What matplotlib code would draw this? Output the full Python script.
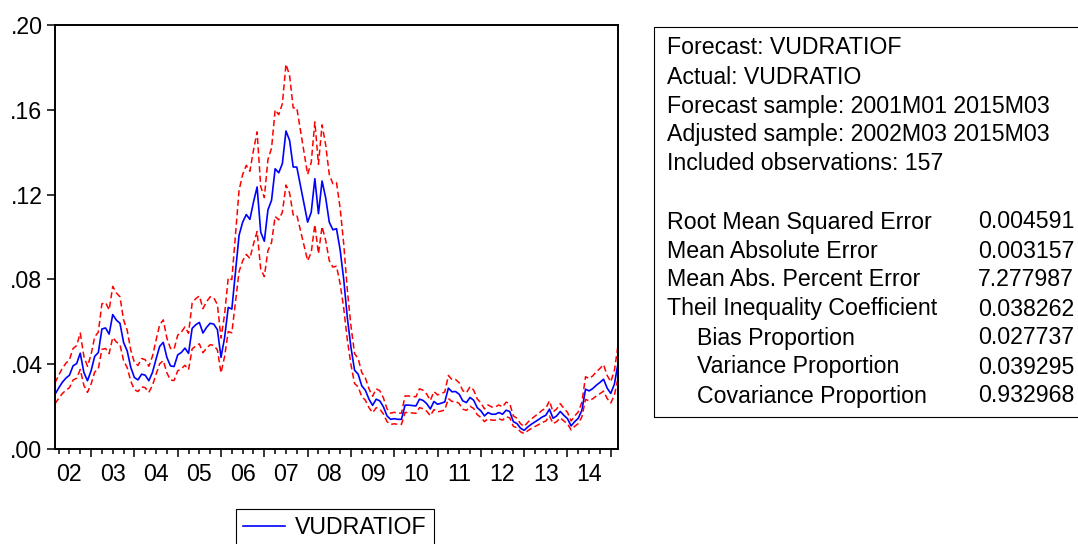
import numpy as np
import matplotlib.pyplot as plt
from matplotlib.patches import Rectangle

plt.rcParams['font.family'] = ['Liberation Sans', 'DejaVu Sans']

# forecast VUDRATIOF, 2002M03 .. 2015M03 (157 monthly obs)
fcst = [0.0258, 0.0287, 0.0314, 0.0334, 0.0348, 0.0392, 0.0403, 0.0452, 0.0361, 0.0322,
        0.0369, 0.0437, 0.0455, 0.0566, 0.0571, 0.0542, 0.0634, 0.0608, 0.0593, 0.0503,
        0.0463, 0.0385, 0.0337, 0.0326, 0.0353, 0.0348, 0.0322, 0.0361, 0.0424, 0.0484,
        0.0503, 0.0432, 0.0392, 0.0389, 0.0444, 0.0455, 0.0476, 0.0451, 0.0569, 0.0586,
        0.0597, 0.0547, 0.0574, 0.0593, 0.0589, 0.0563, 0.0432, 0.0526, 0.0668, 0.0660,
        0.0835, 0.1008, 0.1070, 0.1106, 0.1083, 0.1165, 0.1236, 0.1023, 0.0980, 0.1128,
        0.1173, 0.1322, 0.1303, 0.1346, 0.1500, 0.1456, 0.1330, 0.1330, 0.1243, 0.1157,
        0.1070, 0.1117, 0.1275, 0.1110, 0.1264, 0.1185, 0.1070, 0.1034, 0.1039, 0.0940,
        0.0800, 0.0620, 0.0480, 0.0372, 0.0353, 0.0298, 0.0277, 0.0235, 0.0206, 0.0235,
        0.0227, 0.0199, 0.0156, 0.0140, 0.0143, 0.0140, 0.0140, 0.0207, 0.0207, 0.0205,
        0.0203, 0.0235, 0.0229, 0.0214, 0.0189, 0.0224, 0.0211, 0.0216, 0.0222, 0.0287,
        0.0270, 0.0271, 0.0258, 0.0227, 0.0219, 0.0243, 0.0230, 0.0195, 0.0180, 0.0156,
        0.0172, 0.0164, 0.0164, 0.0172, 0.0164, 0.0183, 0.0177, 0.0129, 0.0120, 0.0098,
        0.0088, 0.0104, 0.0117, 0.0128, 0.0139, 0.0151, 0.0159, 0.0188, 0.0145, 0.0156,
        0.0177, 0.0159, 0.0143, 0.0109, 0.0129, 0.0145, 0.0183, 0.0282, 0.0274, 0.0285,
        0.0301, 0.0314, 0.0329, 0.0287, 0.0262, 0.0306, 0.0403]

# +/- 2 S.E. bands (red dashed)
upper = [0.0312, 0.0347, 0.0380, 0.0404, 0.0421, 0.0474, 0.0488, 0.0547, 0.0437, 0.0390,
         0.0446, 0.0529, 0.0551, 0.0685, 0.0691, 0.0656, 0.0767, 0.0736, 0.0718, 0.0609,
         0.0560, 0.0466, 0.0408, 0.0394, 0.0427, 0.0421, 0.0390, 0.0437, 0.0513, 0.0586,
         0.0609, 0.0523, 0.0474, 0.0471, 0.0537, 0.0551, 0.0576, 0.0546, 0.0688, 0.0709,
         0.0722, 0.0662, 0.0695, 0.0718, 0.0713, 0.0681, 0.0523, 0.0636, 0.0808, 0.0799,
         0.1010, 0.1220, 0.1295, 0.1338, 0.1310, 0.1410, 0.1496, 0.1238, 0.1186, 0.1365,
         0.1419, 0.1600, 0.1577, 0.1629, 0.1815, 0.1762, 0.1609, 0.1609, 0.1504, 0.1400,
         0.1295, 0.1352, 0.1543, 0.1343, 0.1529, 0.1434, 0.1295, 0.1251, 0.1257, 0.1137,
         0.0968, 0.0750, 0.0581, 0.0450, 0.0427, 0.0361, 0.0335, 0.0284, 0.0249, 0.0284,
         0.0275, 0.0241, 0.0189, 0.0169, 0.0173, 0.0169, 0.0169, 0.0250, 0.0250, 0.0248,
         0.0246, 0.0284, 0.0277, 0.0259, 0.0229, 0.0271, 0.0255, 0.0261, 0.0269, 0.0347,
         0.0327, 0.0328, 0.0312, 0.0275, 0.0265, 0.0294, 0.0278, 0.0236, 0.0218, 0.0189,
         0.0208, 0.0198, 0.0198, 0.0208, 0.0198, 0.0221, 0.0214, 0.0156, 0.0145, 0.0119,
         0.0106, 0.0126, 0.0142, 0.0155, 0.0168, 0.0183, 0.0192, 0.0227, 0.0175, 0.0189,
         0.0214, 0.0192, 0.0173, 0.0132, 0.0156, 0.0175, 0.0221, 0.0341, 0.0332, 0.0345,
         0.0364, 0.0380, 0.0398, 0.0347, 0.0317, 0.0370, 0.0488]

lower = [0.0214, 0.0238, 0.0261, 0.0277, 0.0289, 0.0325, 0.0334, 0.0375, 0.0300, 0.0267,
         0.0306, 0.0363, 0.0378, 0.0470, 0.0474, 0.0450, 0.0526, 0.0505, 0.0492, 0.0417,
         0.0384, 0.0320, 0.0280, 0.0271, 0.0293, 0.0289, 0.0267, 0.0300, 0.0352, 0.0402,
         0.0417, 0.0359, 0.0325, 0.0323, 0.0369, 0.0378, 0.0395, 0.0374, 0.0472, 0.0486,
         0.0496, 0.0454, 0.0476, 0.0492, 0.0489, 0.0467, 0.0359, 0.0437, 0.0554, 0.0548,
         0.0693, 0.0837, 0.0888, 0.0918, 0.0899, 0.0967, 0.1026, 0.0849, 0.0813, 0.0936,
         0.0974, 0.1097, 0.1081, 0.1117, 0.1245, 0.1208, 0.1104, 0.1104, 0.1032, 0.0960,
         0.0888, 0.0927, 0.1058, 0.0921, 0.1049, 0.0984, 0.0888, 0.0858, 0.0862, 0.0780,
         0.0664, 0.0515, 0.0398, 0.0309, 0.0293, 0.0247, 0.0230, 0.0195, 0.0171, 0.0195,
         0.0188, 0.0165, 0.0129, 0.0116, 0.0119, 0.0116, 0.0116, 0.0172, 0.0172, 0.0170,
         0.0168, 0.0195, 0.0190, 0.0178, 0.0157, 0.0186, 0.0175, 0.0179, 0.0184, 0.0238,
         0.0224, 0.0225, 0.0214, 0.0188, 0.0182, 0.0202, 0.0191, 0.0162, 0.0149, 0.0129,
         0.0143, 0.0136, 0.0136, 0.0143, 0.0136, 0.0152, 0.0147, 0.0107, 0.0100, 0.0081,
         0.0073, 0.0086, 0.0097, 0.0106, 0.0115, 0.0125, 0.0132, 0.0156, 0.0120, 0.0129,
         0.0147, 0.0132, 0.0119, 0.0090, 0.0107, 0.0120, 0.0152, 0.0234, 0.0227, 0.0237,
         0.0250, 0.0261, 0.0273, 0.0238, 0.0217, 0.0254, 0.0334]

year_labels = ['02', '03', '04', '05', '06', '07', '08', '09', '10', '11', '12', '13', '14']
ytick_vals = [0.0, 0.04, 0.08, 0.12, 0.16, 0.20]
ytick_labels = ['.00', '.04', '.08', '.12', '.16', '.20']

header_lines = ['Forecast: VUDRATIOF',
                'Actual: VUDRATIO',
                'Forecast sample: 2001M01 2015M03',
                'Adjusted sample: 2002M03 2015M03',
                'Included observations: 157']
stat_names = ['Root Mean Squared Error', 'Mean Absolute Error',
              'Mean Abs. Percent Error', 'Theil Inequality Coefficient',
              'Bias Proportion', 'Variance Proportion', 'Covariance Proportion']
stat_values = ['0.004591', '0.003157', '7.277987', '0.038262',
               '0.027737', '0.039295', '0.932968']
stat_indent = [False, False, False, False, True, True, True]

W, H = 1078, 544
FS = 16.7

fig = plt.figure(figsize=(W / 100, H / 100), dpi=100)
ax = fig.add_axes([55 / W, 1 - 449 / H, (618 - 55) / W, (449 - 25) / H])

months = np.arange(len(fcst))
dash = (0, (4, 2.2))
ax.plot(months, upper, color='#ff0000', lw=1.1, ls=dash)
line, = ax.plot(months, fcst, color='#0000ff', lw=1.2, label='VUDRATIOF')
ax.plot(months, lower, color='#ff0000', lw=1.1, ls=dash)

ax.set_xlim(0, len(fcst) - 1)
ax.set_ylim(0, 0.20)

for s in ax.spines.values():
    s.set_linewidth(1.4)

ax.set_yticks(ytick_vals)
ax.set_yticklabels(ytick_labels)
ax.tick_params(axis='y', length=6, width=1.1, pad=3, labelsize=FS)

# year boundaries (Jan) and quarter ticks
major = np.arange(10, len(fcst), 12)
minor = [m for m in range(1, len(fcst), 3) if m not in major]
ax.set_xticks(major)
ax.set_xticklabels([''] * len(major))
ax.set_xticks(minor, minor=True)
ax.tick_params(axis='x', which='major', length=6, width=1.1)
ax.tick_params(axis='x', which='minor', length=3.5, width=1.1)

sec = ax.secondary_xaxis('bottom')
sec.set_xticks(major - 6, year_labels)
sec.tick_params(length=0, pad=10, labelsize=FS)
sec.spines['bottom'].set_visible(False)

leg = fig.legend(handles=[line], loc='upper left',
                 bbox_to_anchor=(236 / W, 1 - 509 / H), borderaxespad=0,
                 frameon=True, fancybox=False, edgecolor='black', framealpha=1,
                 handlelength=1.8, handletextpad=0.45, borderpad=0.3,
                 fontsize=FS)
leg.get_frame().set_linewidth(0.8)

# statistics box
fig.patches.append(Rectangle((654 / W, 1 - 417 / H), (1100 - 654) / W, (417 - 27) / H,
                             transform=fig.transFigure, fill=False,
                             edgecolor='black', lw=0.8))

row_y = lambda r: 1 - (48 + 29 * r) / H
for r, txt in enumerate(header_lines):
    fig.text(667 / W, row_y(r), txt, fontsize=FS, va='center', ha='left')
for k, (name, val, ind) in enumerate(zip(stat_names, stat_values, stat_indent)):
    r = k + 6
    fig.text((697 if ind else 667) / W, row_y(r), name, fontsize=FS, va='center', ha='left')
    fig.text(978 / W, row_y(r), val, fontsize=FS, va='center', ha='left')

fig.savefig('out.png', dpi=100)
